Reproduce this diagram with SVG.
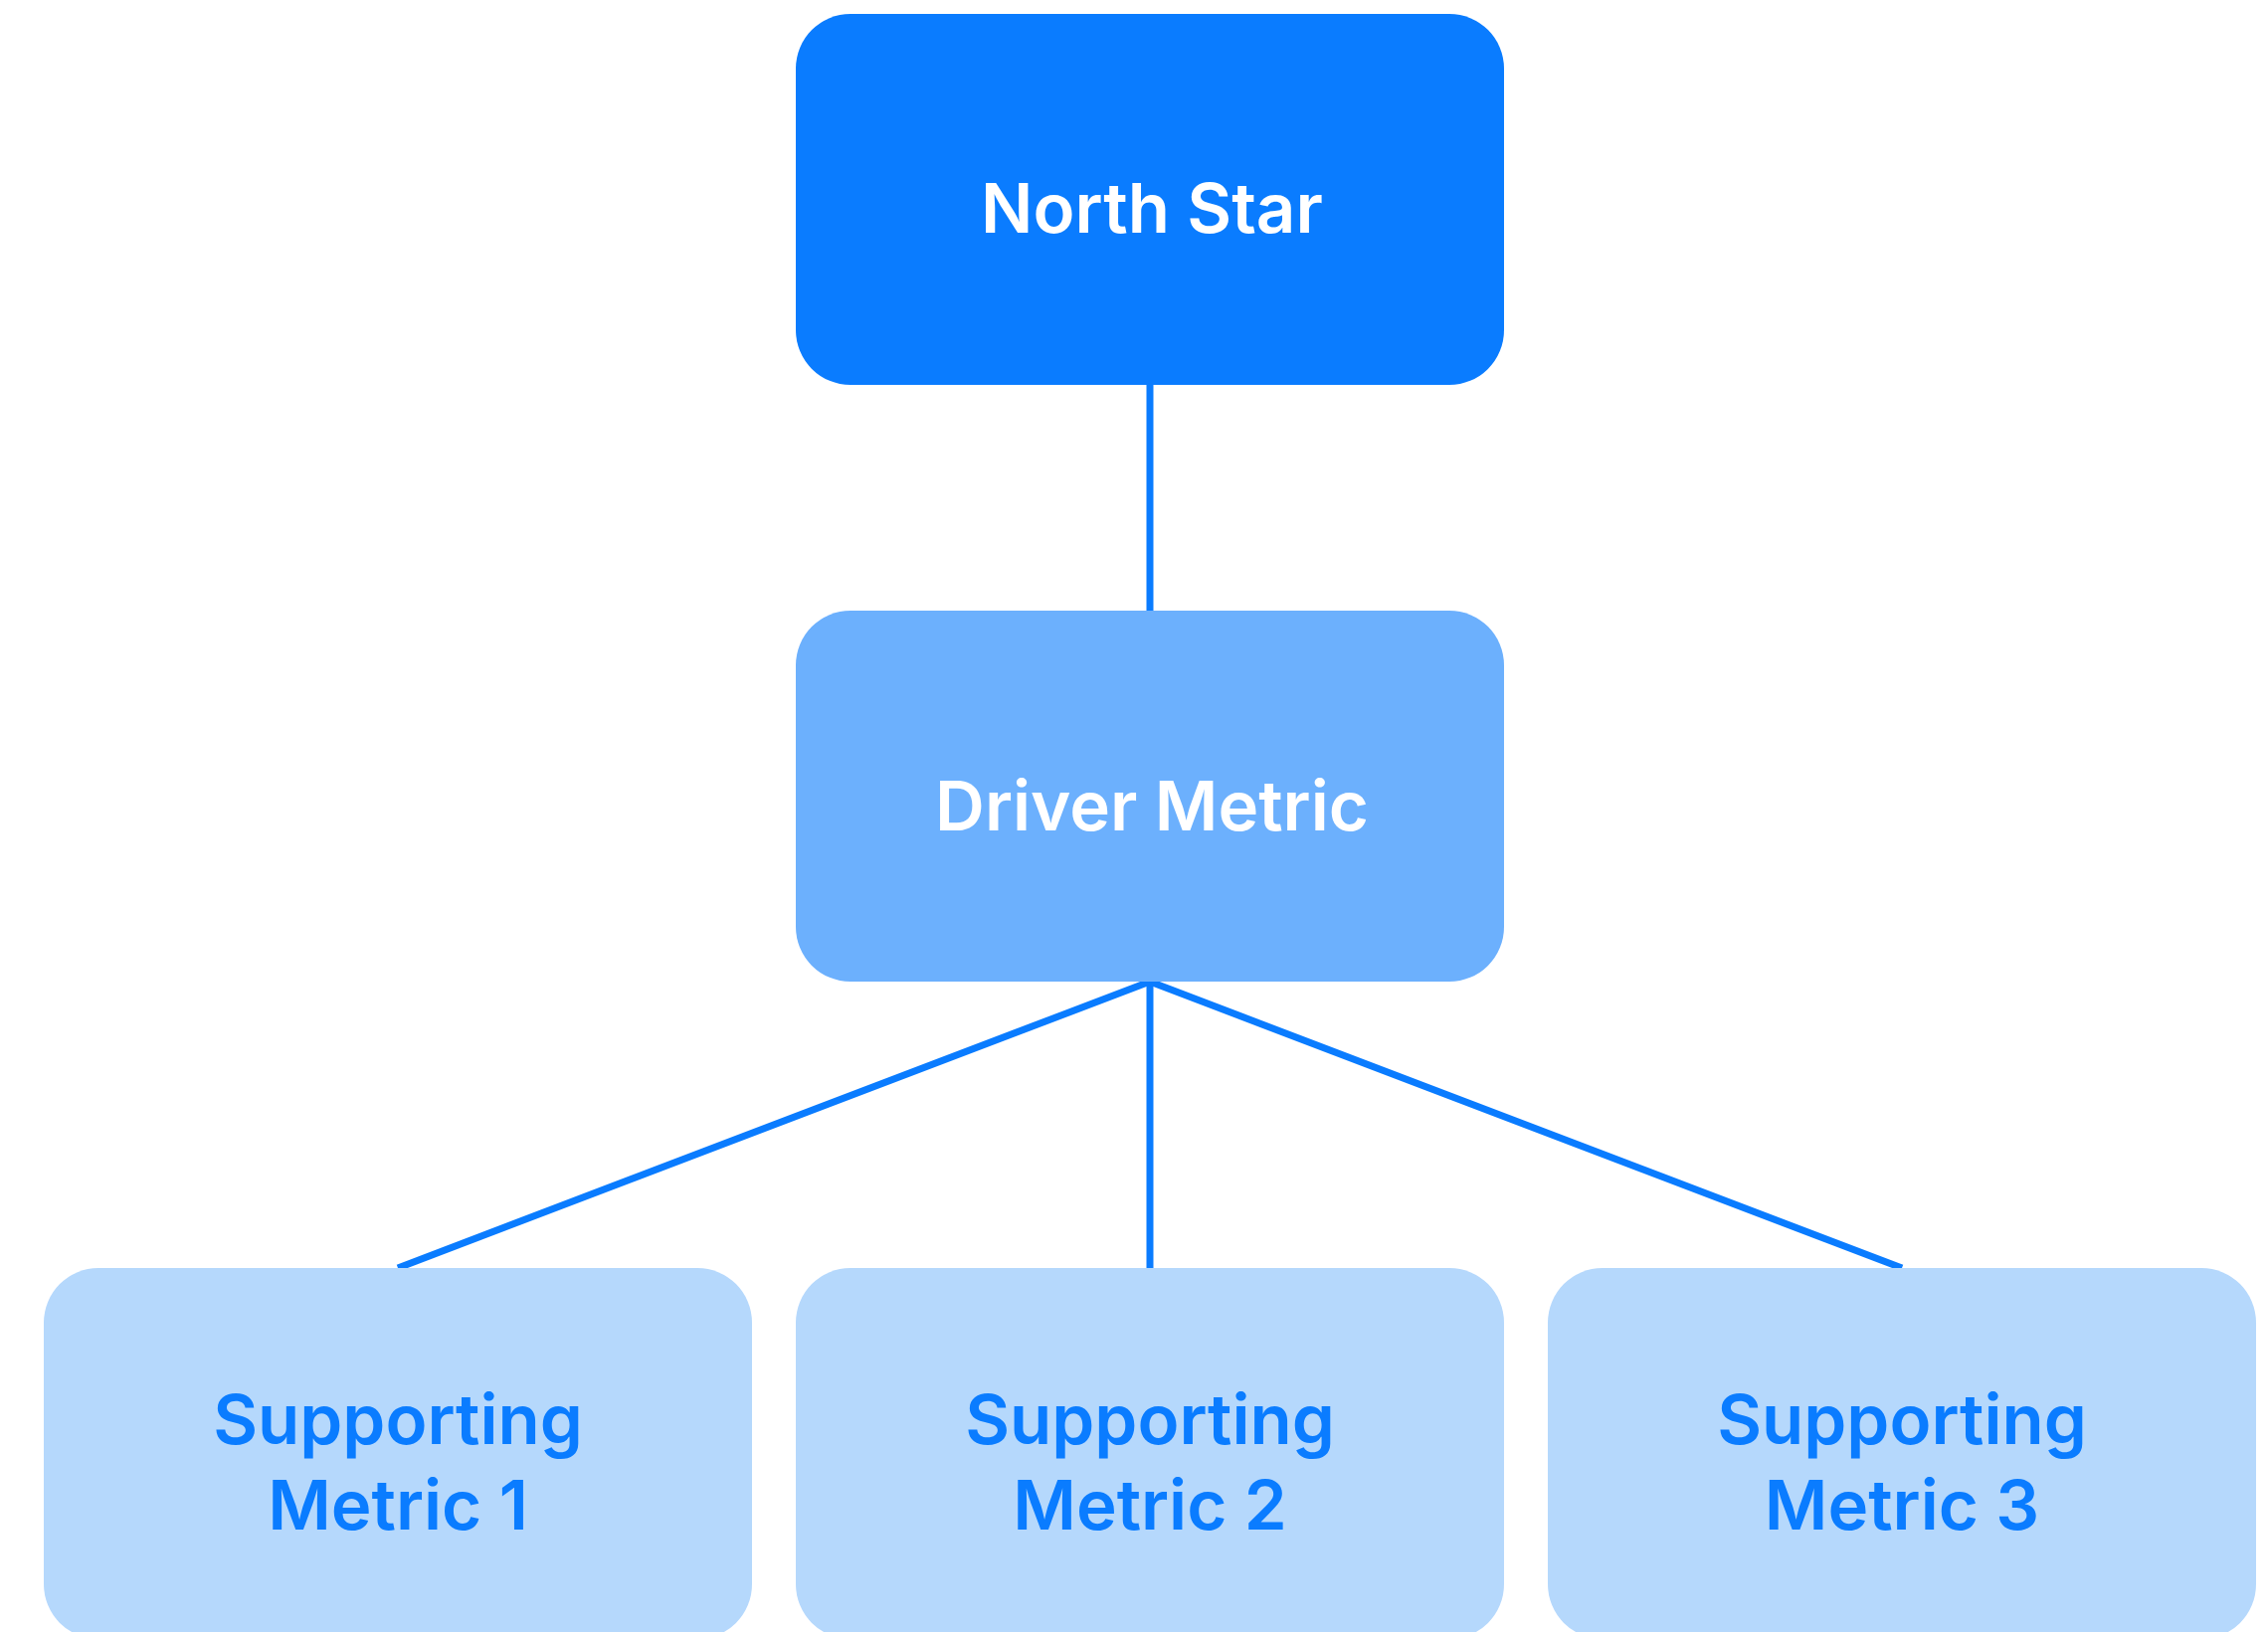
<svg xmlns="http://www.w3.org/2000/svg" width="2280" height="1641" viewBox="0 0 2280 1641">
  <style>
    .box-top { fill: #0A7CFF; }
    .box-mid { fill: #6CB0FD; }
    .box-low { fill: #B5D8FC; }
    .label { font-family: Inter, "Liberation Sans", sans-serif; font-size: 69px; font-weight: 600; text-anchor: middle; letter-spacing: 0px; }
    .light { fill: #FFFFFF; }
    .dark { fill: #0A7CFF; }
    .link { stroke: #0A7CFF; stroke-width: 7; fill: none; }
  </style>
  <rect width="2280" height="1641" fill="#FFFFFF"/>

  <!-- connectors -->
  <g id="connectors">
    <line class="link" x1="1156" y1="387" x2="1156" y2="614"/>
    <line class="link" x1="1156" y1="987" x2="400" y2="1275"/>
    <line class="link" x1="1156" y1="987" x2="1156" y2="1275"/>
    <line class="link" x1="1156" y1="987" x2="1912" y2="1275"/>
  </g>

  <g id="north-star">
    <rect class="box-top" x="800" y="14" width="712" height="373" rx="55" ry="55"/>
    <text class="label light" x="1158" y="234">North Star</text>
  </g>

  <g id="driver-metric">
    <rect class="box-mid" x="800" y="614" width="712" height="373" rx="55" ry="55"/>
    <text class="label light" x="1158" y="835">Driver Metric</text>
  </g>

  <g id="supporting-metric-1">
    <rect class="box-low" x="44" y="1275" width="712" height="373" rx="55" ry="55"/>
    <text class="label dark" x="400" y="1452">Supporting</text>
    <text class="label dark" x="400" y="1538">Metric 1</text>
  </g>

  <g id="supporting-metric-2">
    <rect class="box-low" x="800" y="1275" width="712" height="373" rx="55" ry="55"/>
    <text class="label dark" x="1156" y="1452">Supporting</text>
    <text class="label dark" x="1156" y="1538">Metric 2</text>
  </g>

  <g id="supporting-metric-3">
    <rect class="box-low" x="1556" y="1275" width="712" height="373" rx="55" ry="55"/>
    <text class="label dark" x="1912" y="1452">Supporting</text>
    <text class="label dark" x="1912" y="1538">Metric 3</text>
  </g>
</svg>
